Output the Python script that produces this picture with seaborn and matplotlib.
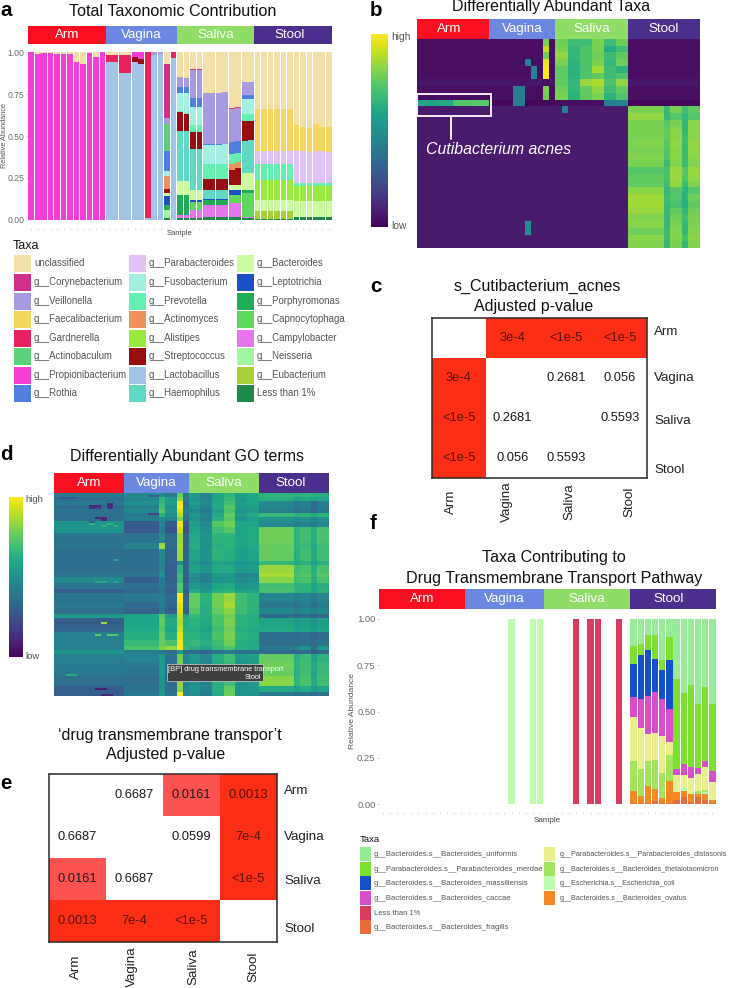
import numpy as np
import pandas as pd
import matplotlib
matplotlib.use("Agg")
import matplotlib.pyplot as plt
from matplotlib.colors import ListedColormap
from matplotlib.patches import Rectangle
import seaborn as sns

W, H = 736, 988
groups = ["Arm", "Vagina", "Saliva", "Stool"]
group_sizes = [12, 11, 12, 12]
group_colors = ["#f90f20", "#6c87e0", "#8fdc66", "#4a2f8c"]

# ---------- panel a: per-taxon abundance (Arm 12, Vagina 11, Saliva 12, Stool 12)
ZA = [0] * 12
ZV = [0] * 11
ZS = [0] * 12
ZT = [0] * 12
unclassified = [0, .01, .005, .005, .01, .01, .01, .06, .07, .005, .025, 0] + \
    [.015, .015, .015, .015, 0, 0, 0, 0, 0, .07, 0] + \
    [.15, .155, .10, .10, .24, .24, .24, .235, .335, .325, .175, .175] + \
    [.34, .34, .34, .34, .34, .34, .435, .445, .45, .43, .445, .445]
corynebacterium = ZA + [0] * 9 + [.32, 0] + [0, 0, .005, .005, 0, 0, 0, 0, .005, .005, .005, .005] + ZT
veillonella = ZA + [0, 0, 0, 0, 0, 0, 0, .015, .01, .04, 0] + \
    [.06, .055, .165, .165, .31, .31, .31, .31, .195, .20, .075, .075] + ZT
faecalibacterium = ZA + ZV + ZS + [.25, .25, .25, .25, .25, .25, .15, .145, .145, .16, .145, .15]
gardnerella = ZA + [.04, .04, .11, .11, 0, 0, .99, 0, 0, 0, .035] + ZS + ZT
actinobaculum = ZA + [0] * 9 + [.16, 0] + ZS + ZT
propionibacterium = [1.00, .99, .995, .995, .99, .99, .99, .94, .93, .995, .975, 1.0] + \
    [0, 0, 0, 0, .025, .04, 0, 0, 0, 0, 0] + ZS + ZT
rothia = ZA + [0] * 9 + [.12, 0] + [.03, .03, .055, .055, .005, .005, .005, .005, .07, .07, .025, .025] + ZT
parabacteroides = ZA + ZV + ZS + [.075, .075, .075, .075, .075, .075, .195, .19, .185, .19, .19, .185]
fusobacterium = ZA + [0] * 9 + [.03, 0] + [.11, .125, .11, .11, .115, .115, .115, .115, 0, 0, .09, .09] + ZT
prevotella = ZA + ZV + [.005, .005, .04, .04, .09, .09, .09, .09, .06, .055, .04, .04] + \
    [.10, .10, .10, .10, .10, .10, .02, .02, .02, .02, .02, .02]
actinomyces = ZA + [0] * 9 + [.075, 0] + [0, 0, 0, 0, 0, 0, 0, 0, .04, .035, 0, 0] + ZT
alistipes = ZA + ZV + ZS + [.115, .115, .115, .115, .115, .115, .09, .09, .09, .09, .09, .09]
streptococcus = ZA + [0, 0, 0, 0, .03, .03, 0, 0, 0, .025, 0] + \
    [.115, .10, .105, .105, .06, .06, .06, .065, .085, .10, .12, .115] + ZT
lactobacillus = ZA + [.945, .945, .875, .875, .945, .93, .01, .985, .99, 0, .965] + ZS + ZT
haemophilus = ZA + ZV + [.30, .30, .24, .24, .055, .055, .055, .055, 0, 0, .19, .195] + ZT
bacteroides = ZA + [0] * 9 + [.02, 0] + [.08, .08, .06, .06, 0, 0, 0, 0, .03, .03, .10, .10] + \
    [.07, .07, .07, .07, .07, .07, .095, .095, .095, .095, .095, .095]
leptotrichia = ZA + [0] * 9 + [.055, 0] + [0, 0, .015, .015, .01, .01, .01, .01, .03, .03, 0, 0] + ZT
porphyromonas = ZA + [0] * 9 + [.025, 0] + [.125, .125, 0, 0, .03, .03, .03, .03, 0, 0, .02, .02] + ZT
capnocytophaga = ZA + ZV + [0, 0, .05, .05, 0, 0, 0, 0, .05, .05, .145, .145] + ZT
campylobacter = ZA + ZV + [.015, .015, .045, .045, .07, .07, .07, .07, .085, .085, .005, .005] + ZT
neisseria = ZA + [0] * 9 + [.05, 0] + ZS + ZT
eubacterium = ZA + ZV + ZS + [.045, .045, .045, .045, .045, .045, 0, 0, 0, 0, 0, 0]
less_than_1 = ZA + [0] * 9 + [.01, 0] + [.01, .01, .01, .01, .015, .015, .015, .015, .015, .015, .01, .01] + \
    [.005, .005, .005, .005, .005, .005, .015, .015, .015, .015, .015, .015]

taxa_a = ["unclassified", "g__Corynebacterium", "g__Veillonella", "g__Faecalibacterium", "g__Gardnerella",
          "g__Actinobaculum", "g__Propionibacterium", "g__Rothia", "g__Parabacteroides", "g__Fusobacterium",
          "g__Prevotella", "g__Actinomyces", "g__Alistipes", "g__Streptococcus", "g__Lactobacillus",
          "g__Haemophilus", "g__Bacteroides", "g__Leptotrichia", "g__Porphyromonas", "g__Capnocytophaga",
          "g__Campylobacter", "g__Neisseria", "g__Eubacterium", "Less than 1%"]
values_a = [unclassified, corynebacterium, veillonella, faecalibacterium, gardnerella, actinobaculum,
            propionibacterium, rothia, parabacteroides, fusobacterium, prevotella, actinomyces, alistipes,
            streptococcus, lactobacillus, haemophilus, bacteroides, leptotrichia, porphyromonas, capnocytophaga,
            campylobacter, neisseria, eubacterium, less_than_1]
colors_a = ["#f3dfa8", "#d0308c", "#a89ae0", "#f3d560", "#e8215f", "#5dd07a", "#f53dd8", "#4f80e0",
            "#e0c2f5", "#a3f0e3", "#63f0b0", "#ea935a", "#98ea3f", "#960e10", "#a2c4e6", "#5fd8c4",
            "#ccfca0", "#1a50c8", "#21ad55", "#5fd860", "#e675ee", "#a0f7a0", "#a8cf3c", "#1f8a48"]

# ---------- panel b: heat values
b_background = [.035] * 6 + [.05, .035, .035, .015] + [.065] * 21
b_saliva = [[.70, .62, .62, .72, .62, .70], [.72, .60, .65, .72, .55, .62], [.75, .60, .65, .70, .62, .68],
            [.72, .58, .65, .72, .60, .70], [.68, .58, .65, .78, .62, .58], [.68, .58, .65, .68, .62, .65],
            [.68, .60, .76, .79, .65, .75], [.70, .60, .68, .75, .62, .68], [.72, .58, .68, .72, .58, .65]]
b_saliva_row9 = [.03, .03, .03, .03, .40, .40]
b_stool = [[.72, .60, .72, .62, .68], [.75, .60, .66, .60, .66], [.72, .66, .72, .60, .74],
           [.72, .68, .74, .60, .74], [.72, .68, .74, .62, .74], [.73, .66, .75, .62, .75],
           [.72, .65, .74, .62, .75], [.73, .64, .74, .62, .74], [.72, .62, .73, .62, .73],
           [.66, .64, .76, .66, .76], [.68, .64, .76, .66, .75], [.68, .62, .75, .62, .73],
           [.74, .60, .66, .58, .66], [.77, .62, .66, .58, .70], [.77, .60, .64, .56, .68],
           [.76, .60, .68, .60, .70], [.73, .60, .70, .62, .72], [.74, .60, .72, .60, .72],
           [.70, .62, .73, .60, .73], [.74, .62, .73, .64, .74], [.73, .60, .72, .60, .73]]
b_yellow_col = [.72, .82, .70, .87, .89, .90, .035, .72, .70]
b_acnes = [.52, .54, .52, .54, .56, .54, .66, .66, .66, .67, .67, .66]
b_spot_rows = [3, 4, 5, 7, 8, 9, 7, 8, 9, 10, 27, 28]
b_spot_cols = [18, 19, 19, 16, 16, 16, 17, 17, 17, 24, 18, 18]
b_spot_vals = [.40, .40, .40, .38, .38, .38, .38, .38, .38, .40, .44, .44]

# ---------- panel d: GO term bands (Arm | Vagina 5 | Saliva 6 | Stool 5)
go_band_rows = [2] * 7 + [3, 3, 5, 3, 6, 2, 4, 2, 3, 3, 2, 4, 3, 3, 2, 4, 3, 4, 3, 2, 2, 4, 4, 3, 5, 3, 2]
go_arm = [.40, .36, .40, .34, .38, .36, .36, .50, .50, .38, .38, .36, .36, .36, .38, .46, .38, .30, .38, .40, .36,
          .52, .30, .32, .42, .42, .42, .50, .42, .40, .40, .36, .30, .30]
go_vagina = [[.46, .46, .40, .72, .40], [.44, .62, .52, .78, .42], [.48, .64, .54, .92, .34], [.42, .66, .50, .96, .38],
             [.46, .70, .52, .88, .42], [.40, .62, .48, .84, .38], [.42, .46, .44, .76, .36], [.30, .44, .30, .92, .28],
             [.28, .42, .26, .88, .26], [.38, .44, .34, .80, .32], [.44, .80, .34, .82, .32], [.36, .46, .32, .80, .32],
             [.36, .44, .32, .48, .32], [.36, .44, .30, .62, .32], [.38, .50, .30, .66, .32], [.30, .42, .30, .64, .30],
             [.36, .40, .32, .70, .34], [.34, .38, .30, .68, .30], [.40, .42, .34, .94, .32], [.34, .42, .32, .90, .34],
             [.32, .40, .30, .88, .30], [.56, .70, .52, .85, .54], [.56, .72, .58, .82, .58], [.58, .70, .56, .86, .60],
             [.60, .72, .60, .90, .62], [.64, .72, .68, .92, .62], [.68, .76, .80, .94, .64], [.42, .40, .36, .50, .36],
             [.44, .50, .38, .74, .42], [.40, .52, .36, .76, .42], [.38, .52, .36, .78, .44], [.36, .50, .34, .80, .42],
             [.38, .50, .36, .78, .44], [.40, .52, .38, .96, .46]]
go_saliva = [[.52, .44, .56, .62, .54, .58], [.50, .44, .56, .64, .52, .56], [.54, .46, .58, .66, .54, .56],
             [.50, .44, .58, .70, .52, .54], [.46, .40, .54, .68, .50, .52], [.52, .44, .58, .72, .54, .58],
             [.50, .42, .60, .70, .50, .54], [.54, .46, .70, .74, .56, .56], [.56, .48, .66, .70, .56, .58],
             [.58, .50, .62, .62, .56, .58], [.60, .50, .60, .62, .56, .58], [.56, .50, .62, .60, .54, .56],
             [.52, .46, .56, .54, .50, .52], [.56, .50, .58, .58, .52, .54], [.48, .42, .52, .52, .44, .46],
             [.46, .42, .50, .52, .46, .48], [.52, .48, .56, .58, .50, .52], [.58, .52, .60, .62, .56, .56],
             [.72, .62, .74, .80, .66, .62], [.72, .60, .74, .82, .66, .62], [.70, .60, .72, .78, .66, .62],
             [.64, .60, .68, .74, .62, .60], [.62, .58, .68, .76, .62, .60], [.60, .56, .66, .74, .60, .58],
             [.62, .58, .68, .76, .62, .60], [.64, .60, .66, .74, .60, .58], [.60, .56, .64, .68, .60, .58],
             [.34, .32, .38, .40, .36, .36], [.52, .46, .60, .66, .52, .54], [.50, .44, .58, .64, .50, .54],
             [.50, .46, .60, .64, .52, .54], [.48, .44, .60, .66, .50, .52], [.50, .44, .60, .72, .50, .52],
             [.48, .42, .58, .74, .50, .50]]
go_stool = [[.62, .60, .62, .60, .60], [.60, .56, .58, .56, .58], [.46, .40, .44, .36, .42], [.44, .40, .42, .34, .42],
            [.42, .38, .40, .34, .40], [.64, .60, .62, .58, .62], [.50, .48, .48, .44, .48], [.46, .42, .44, .40, .46],
            [.74, .62, .66, .60, .68], [.74, .62, .66, .60, .68], [.72, .62, .64, .58, .66], [.72, .60, .66, .58, .66],
            [.64, .58, .60, .54, .60], [.80, .66, .68, .60, .68], [.82, .68, .70, .62, .70], [.78, .66, .68, .60, .68],
            [.66, .62, .62, .56, .60], [.68, .62, .62, .56, .62], [.44, .42, .44, .40, .44], [.40, .38, .42, .36, .42],
            [.46, .42, .46, .42, .46], [.34, .32, .34, .30, .34], [.56, .52, .54, .50, .54], [.58, .54, .56, .52, .56],
            [.36, .34, .36, .32, .36], [.36, .36, .36, .34, .38], [.40, .44, .50, .34, .52], [.34, .32, .34, .30, .34],
            [.72, .60, .65, .55, .62], [.74, .62, .66, .58, .64], [.72, .60, .66, .56, .64], [.78, .62, .68, .58, .66],
            [.58, .54, .58, .52, .56], [.40, .38, .38, .34, .38]]
go_spot_rows = [6, 6, 7, 7, 5, 6, 7, 12, 12, 13, 14, 10, 10, 1, 1, 2, 2, 2, 15, 15, 16, 16, 44, 44, 44, 33, 64, 70, 70, 70, 90, 90, 97, 97, 100, 100]
go_spot_cols = [6, 7, 6, 7, 9, 9, 9, 7, 8, 8, 6, 16, 17, 16, 17, 1, 2, 3, 6, 9, 8, 10, 7, 8, 10, 10, 8, 7, 9, 10, 2, 3, 7, 8, 8, 9]
go_spot_vals = [.12, .12, .15, .2, .15, .15, .15, .14, .14, .12, .3, .2, .2, .3, .3, .28, .28, .28, .62, .62, .62, .62, .58, .58, .58, .58, .8, .7, .7, .7, .6, .6, .1, .1, .12, .12]

# ---------- panels c and e
c_pvalues = [[1, 3e-4, 1e-5, 1e-5], [3e-4, 1, .2681, .056], [1e-5, .2681, 1, .5593], [1e-5, .056, .5593, 1]]
c_labels = [["", "3e-4", "<1e-5", "<1e-5"], ["3e-4", "", "0.2681", "0.056"],
            ["<1e-5", "0.2681", "", "0.5593"], ["<1e-5", "0.056", "0.5593", ""]]
e_pvalues = [[1, .6687, .0161, .0013], [.6687, 1, .0599, 7e-4], [.0161, .6687, 1, 1e-5], [.0013, 7e-4, 1e-5, 1]]
e_labels = [["", "0.6687", "0.0161", "0.0013"], ["0.6687", "", "0.0599", "7e-4"],
            ["0.0161", "0.6687", "", "<1e-5"], ["0.0013", "7e-4", "<1e-5", ""]]

# ---------- panel f
f_uniformis = [.145, .135, .085, .085, .22, .10, .325, .40, .355, .46, .365, .46]
f_merdae = [.10, .06, .08, .13, .055, .12, .485, .385, .445, .345, .40, .36]
f_massiliensis = [.175, .24, .25, .18, .16, .265, 0, 0, 0, 0, 0, 0]
f_caccae = [.11, .155, .205, .22, .20, .18, .035, .06, .06, .035, .035, .06]
f_distasonis = [.235, .22, .15, .145, .195, .07, .09, .07, .085, .09, .125, .10]
f_theta = [.165, .145, .135, .16, .14, .14, 0, 0, 0, .015, .01, 0]
f_coli_stool = [0, 0, 0, 0, 0, 0, 0, .015, 0, 0, .01, 0]
f_ovatus = [.063, .04, .09, .065, .027, .12, .045, .03, .045, .015, .035, .015]
f_fragilis = [.007, .005, .005, .015, .003, .005, .02, .04, .01, .04, .02, .005]
f_coli_bars = [18, 21, 22]
f_less_bars = [27, 29, 30, 33]
taxa_f_stack = ["uniformis", "merdae", "massiliensis", "caccae", "less", "distasonis", "theta", "coli", "ovatus", "fragilis"]
colors_f_stack = ["#98ec97", "#7be030", "#1450c8", "#d94fc9", "#d93c5c", "#e9ef8a", "#a3e45e", "#bdfcae", "#f58a25", "#ea6a3c"]
legend_f_1 = ["g__Bacteroides.s__Bacteroides_uniformis", "g__Parabacteroides.s__Parabacteroides_merdae",
              "g__Bacteroides.s__Bacteroides_massiliensis", "g__Bacteroides.s__Bacteroides_caccae",
              "Less than 1%", "g__Bacteroides.s__Bacteroides_fragilis"]
legend_f_1_colors = ["#98ec97", "#7be030", "#1450c8", "#d94fc9", "#d93c5c", "#ea6a3c"]
legend_f_2 = ["g__Parabacteroides.s__Parabacteroides_distasonis", "g__Bacteroides.s__Bacteroides_thetaiotaomicron",
              "g__Escherichia.s__Escherichia_coli", "g__Bacteroides.s__Bacteroides_ovatus"]
legend_f_2_colors = ["#e9ef8a", "#a3e45e", "#bdfcae", "#f58a25"]

# ---------- drawing
sns.set_theme(style="white")
plt.rcParams["font.family"] = ["Liberation Sans", "DejaVu Sans"]
fig = plt.figure(figsize=(W / 100, H / 100), dpi=100)


def px_axes(x0, y0, x1, y1):
    return fig.add_axes([x0 / W, 1 - y1 / H, (x1 - x0) / W, (y1 - y0) / H])


def header(x0, y0, x1, y1, size=9.6, shift=(0, 0, 0, -.6)):
    ax = px_axes(x0, y0, x1, y1)
    codes = np.repeat(np.arange(4), group_sizes)[None, :]
    sns.heatmap(codes, cmap=ListedColormap(group_colors), vmin=-.5, vmax=3.5, cbar=False,
                xticklabels=False, yticklabels=False, ax=ax)
    start = 0
    for g, n, s in zip(groups, group_sizes, shift):
        ax.text(start + n / 2 + s, .5, g, color="white", ha="center", va="center", fontsize=size)
        start += n


def stacked(x0, y0, x1, y1, frame, order, palette, ymin, ymax, label_size):
    ax = px_axes(x0, y0, x1, y1)
    sns.histplot(frame, x="sample", weights="value", hue="taxon", hue_order=order, multiple="stack",
                 discrete=True, shrink=.88, alpha=1, linewidth=0, palette=palette, legend=False, ax=ax)
    ax.set_xlim(-.5, 46.5)
    ax.set_ylim(ymin, ymax)
    ax.set_xticks(range(47))
    ax.set_xticklabels([])
    ax.set_yticks([0, .25, .5, .75, 1])
    ax.set_yticklabels(["0.00", "0.25", "0.50", "0.75", "1.00"])
    ax.tick_params(axis="x", bottom=True, length=1.5, width=.5, color="#cccccc")
    ax.tick_params(axis="y", left=True, length=1.5, width=.5, color="#bbbbbb", labelsize=label_size,
                   labelcolor="#6b6b6b", pad=1)
    ax.set_xlabel("")
    ax.set_ylabel("")
    sns.despine(ax=ax, left=True, bottom=True)
    return ax


def pvalue_table(x0, y0, x1, y1, pvals, labels, ypos, xpos, xpad):
    ax = px_axes(x0, y0, x1, y1)
    p = np.array(pvals, dtype=float)
    cats = np.select([p < .01, p < .05], [2, 1], 0)
    sns.heatmap(cats, cmap=ListedColormap(["#ffffff", "#fc5350", "#fc2e15"]), vmin=-.5, vmax=2.5, cbar=False,
                annot=np.array(labels), fmt="", annot_kws={"size": 9.3, "color": "#111111"}, ax=ax)
    for t, c in zip(ax.texts, cats.ravel()):
        t.set_color("#55100a" if c == 2 else "#1a1a1a")
    for s in ax.spines.values():
        s.set_visible(True)
        s.set_color("#2a2a2a")
        s.set_linewidth(1.1)
    ax.yaxis.tick_right()
    ax.set_yticks(ypos)
    ax.set_yticklabels(groups, rotation=0, fontsize=9.6, color="#222222")
    ax.set_xticks(xpos)
    ax.set_xticklabels(groups, rotation=90, fontsize=9.6, color="#222222")
    ax.tick_params(axis="y", length=0, pad=5)
    ax.tick_params(axis="x", length=0, pad=xpad)
    for lab in ax.get_xticklabels():
        lab.set_va("center")
    return ax


# panel a
frame_a = pd.DataFrame({"sample": np.tile(np.arange(47), len(taxa_a)),
                        "taxon": np.repeat(taxa_a, 47),
                        "value": np.concatenate(values_a)})
stacked(28, 44, 332, 228, frame_a, taxa_a, dict(zip(taxa_a, colors_a)), -.05, 1.05, 6.2)
header(28, 26, 332, 44)

# panel b
saliva_wide = np.repeat(np.array(b_saliva), 2, axis=1)
stool_wide = np.repeat(np.array(b_stool), [6, 1, 2, 1, 2], axis=1)
mat_b = np.tile(np.array(b_background)[:, None], (1, 47))
mat_b[:9, 23:35] = saliva_wide
mat_b[9, 23:35] = np.repeat(b_saliva_row9, 2)
mat_b[10:31, 35:47] = stool_wide
mat_b[:9, 21] = b_yellow_col
mat_b[9, :12] = b_acnes
mat_b[b_spot_rows, b_spot_cols] = b_spot_vals
ax_b = px_axes(417, 39, 700, 248)
cax_b = px_axes(371, 34, 388, 227)
sns.heatmap(mat_b, cmap="viridis", vmin=0, vmax=.9, xticklabels=False, yticklabels=False, ax=ax_b, cbar_ax=cax_b,
            cbar_kws={"ticks": [.01, .89]})
cax_b.set_yticklabels(["low", "high"], fontsize=7.4, color="#555555")
cax_b.tick_params(length=0, pad=2)
ax_b.collections[0].colorbar.outline.set_edgecolor("#b9b49c")
header(417, 19, 700, 39, shift=(-.6, 0, 0, 0))

# panel d
mat_d = np.column_stack([
    np.repeat(np.array(go_arm)[:, None], 12, axis=1),
    np.repeat(np.array(go_vagina), [6, 1, 2, 1, 1], axis=1),
    np.repeat(np.array(go_saliva), 2, axis=1),
    np.repeat(np.array(go_stool), [6, 1, 2, 1, 2], axis=1)])
mat_d = np.repeat(mat_d, go_band_rows, axis=0)
mat_d[go_spot_rows, go_spot_cols] = go_spot_vals
ax_d = px_axes(54, 493, 329, 696)
cax_d = px_axes(9, 497, 23, 657)
sns.heatmap(mat_d, cmap="viridis", vmin=.03, vmax=.94, xticklabels=False, yticklabels=False, ax=ax_d, cbar_ax=cax_d,
            cbar_kws={"ticks": [.04, .93]})
cax_d.set_yticklabels(["low", "high"], fontsize=6.8, color="#555555")
cax_d.tick_params(length=0, pad=2)
ax_d.collections[0].colorbar.outline.set_edgecolor("#b9b49c")
header(54, 473, 329, 493, shift=(0, 0, 0, -.6))

# panels c and e
pvalue_table(432, 318, 647, 478, c_pvalues, c_labels, [.32, 1.46, 2.54, 3.75], [.36, 1.40, 2.56, 3.68], 17)
pvalue_table(49, 774, 277, 942, e_pvalues, e_labels, [.38, 1.46, 2.5, 3.65], [.48, 1.45, 2.53, 3.58], 18)

# panel f
f_stool_columns = dict(uniformis=f_uniformis, merdae=f_merdae, massiliensis=f_massiliensis, caccae=f_caccae,
                       distasonis=f_distasonis, theta=f_theta, coli=f_coli_stool, ovatus=f_ovatus, fragilis=f_fragilis)
rows_f = []
for name in taxa_f_stack:
    col = np.zeros(47)
    if name in f_stool_columns:
        col[35:] = f_stool_columns[name]
    if name == "coli":
        col[f_coli_bars] = 1
    if name == "less":
        col[f_less_bars] = 1
    rows_f.append(pd.DataFrame({"sample": np.arange(47), "taxon": name, "value": col}))
frame_f = pd.concat(rows_f, ignore_index=True)
stacked(379, 609, 716, 812, frame_f, taxa_f_stack, dict(zip(taxa_f_stack, colors_f_stack)), -.043, 1.054, 6.8)
header(379, 589, 716, 609)

# overlay in pixel coordinates: titles, legends, letters, annotation
ov = fig.add_axes([0, 0, 1, 1], facecolor="none")
ov.set_xlim(0, W)
ov.set_ylim(H, 0)
ov.axis("off")


def T(x, y, s, size=11.5, color="#111111", ha="center", **kw):
    ov.text(x, y, s, fontsize=size, color=color, ha=ha, va="center", **kw)


T(173, 12, "Total Taxonomic Contribution", 11.6)
T(551, 7, "Differentially Abundant Taxa", 11.5)
T(537, 286, "s_Cutibacterium_acnes", 11.5)
T(534, 306, "Adjusted p-value", 11.5)
T(187, 456, "Differentially Abundant GO terms", 11.5)
T(170, 735, "\u2018drug transmembrane transpor\u2019t", 11.5)
T(166, 754, "Adjusted p-value", 11.5)
T(554, 557, "Taxa Contributing to", 11.6)
T(554, 578, "Drug Transmembrane Transport Pathway", 11.6)
for lx, ly, letter in [(6, 10, "a"), (376, 10, "b"), (375.5, 286, "c"), (6, 454, "d"), (6, 783, "e"), (373, 523, "f")]:
    T(lx, ly, letter, 14.8, "black", fontweight="bold")

# axis texts a / f
T(5, 135, "Relative Abundance", 5.3, "#555555", rotation=90)
T(180, 233, "Sample", 5.5, "#444444")
T(353, 711, "Relative Abundance", 6.1, "#555555", rotation=90)
T(547, 820, "Sample", 5.8, "#444444")

# legend a
T(13, 246, "Taxa", 9, ha="left")
col_x = [(14, 34), (129, 149), (237, 257)]
row_y = [263, 282, 301, 319, 338, 356, 375, 393]
for i, (name, color) in enumerate(zip(taxa_a, colors_a)):
    sx, tx = col_x[i // 8]
    y = row_y[i % 8]
    ov.add_patch(Rectangle((sx, y - 8.5), 17, 17, facecolor=color, edgecolor="none"))
    T(tx, y, name, 6.9, "#555555", ha="left")

# legend f
T(360, 839, "Taxa", 6.8, ha="left")
f_rows = [854, 869, 883, 898, 913, 927]
for y, name, color in zip(f_rows, legend_f_1, legend_f_1_colors):
    ov.add_patch(Rectangle((360, y - 7), 11, 14, facecolor=color, edgecolor="none"))
    T(374, y, name, 5.5, "#555555", ha="left")
for y, name, color in zip(f_rows, legend_f_2, legend_f_2_colors):
    ov.add_patch(Rectangle((544, y - 7), 11, 14, facecolor=color, edgecolor="none"))
    T(560, y, name, 5.2, "#555555", ha="left")

# Cutibacterium annotation
ov.add_patch(Rectangle((417, 94.5), 74, 21.5, facecolor="none", edgecolor="#f4eef8", linewidth=1.4))
ov.plot([451, 451], [116, 139], color="#f4eef8", linewidth=1.4)
T(426, 149, "Cutibacterium acnes", 11.4, "white", ha="left", style="italic")

# tooltip in panel d
ov.add_patch(Rectangle((167, 664), 96, 17, facecolor="#3f3f3f", edgecolor="#cfcfcf", linewidth=.5))
T(168.5, 669, "[BP] drug transmembrane transport", 5.3, "white", ha="left")
T(261.5, 677, "Stool", 5.3, "white", ha="right")

fig.savefig("out.png", dpi=100)
